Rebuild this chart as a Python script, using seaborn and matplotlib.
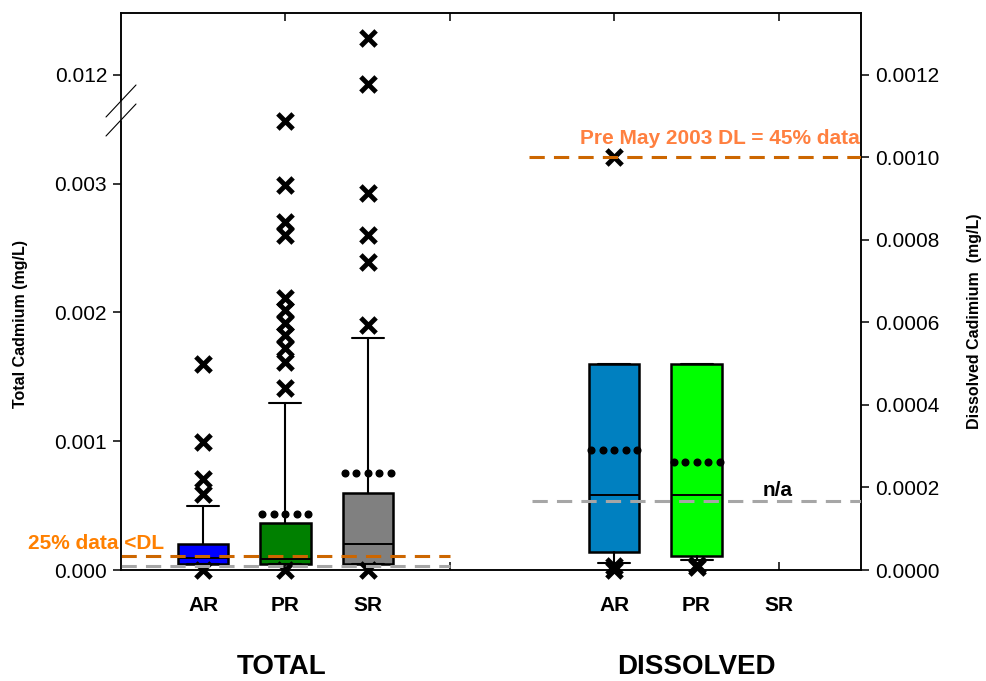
import numpy as np
import pandas as pd
import matplotlib
matplotlib.use("Agg")
import matplotlib.pyplot as plt
import seaborn as sns

# %% data
sites = ["AR", "PR", "SR"]

# total cadmium (mg/L), left axis
total_pos = [1, 2, 3]
total_q1 = [0.00005, 0.00005, 0.00005]
total_med = [0.000093, 0.000085, 0.0002]
total_q3 = [0.000202, 0.000364, 0.000597]
total_whislo = [0.00005, 0.00005, 0.00005]
total_whishi = [0.000496, 0.001295, 0.0018]
total_mean = [np.nan, 0.000434, 0.000752]
total_colors = ["#0000FF", "#008000", "#808080"]
total_out_AR = [0.001597, 0.000995, 0.000705, 0.000594, 0.0]
total_out_PR = [0.00349, 0.00299, 0.0027, 0.0026, 0.002116, 0.002016, 0.001915,
                0.001822, 0.001721, 0.001612, 0.001411, 0.0]
total_out_SR = [0.012284, 0.011927, 0.002928, 0.0026, 0.00239, 0.0019, 0.0]

# dissolved cadmium (mg/L), right axis (no SR data)
diss_pos = [6, 7, 8]
diss_q1 = [0.000044, 0.000034]
diss_med = [0.000182, 0.000182]
diss_q3 = [0.0005, 0.0005]
diss_whislo = [0.000017, 0.000024]
diss_whishi = [0.0005, 0.0005]
diss_mean = [0.000291, 0.000262]
diss_colors = ["#0080C0", "#00FF00"]
diss_out_AR = [0.001, 0.00001, 0.0]
diss_out_PR = [0.000012, 0.000007]

# detection limits
total_dl = 0.000105
total_dl_gray = 0.000031
diss_dl = 0.001
diss_dl_gray = 0.000168

# %% broken left axis: lower part up to G0, upper part starts at G1
G0, G1, EPS = 0.00356, 0.01172, 1e-3

def fwd(v):
    v = np.asarray(v, dtype=float)
    return np.where(v <= G0, v,
                    np.where(v <= G1, G0 + (v - G0) * EPS,
                             G0 + (G1 - G0) * EPS + (v - G1)))

def inv(t):
    t = np.asarray(t, dtype=float)
    tg = G0 + (G1 - G0) * EPS
    return np.where(t <= G0, t,
                    np.where(t <= tg, G0 + (t - G0) / EPS, G1 + (t - tg)))

# %% style
sns.set_style("ticks")
plt.rcParams['font.family'] = ['Liberation Sans', 'DejaVu Sans']
plt.rcParams['axes.linewidth'] = 1.1
plt.rcParams['text.color'] = 'black'
plt.rcParams['xtick.color'] = 'black'
plt.rcParams['ytick.color'] = 'black'
plt.rcParams['axes.edgecolor'] = 'black'

fig = plt.figure(figsize=(9.87, 6.81), dpi=100)
ax = fig.add_axes([121 / 987, 1 - 570 / 681, 740 / 987, 557 / 681])
ax.set_yscale('function', functions=(fwd, inv))
ax2 = ax.twinx()

def make_stats(q1, med, q3, lo, hi):
    return [dict(q1=a, med=b, q3=c, whislo=d, whishi=e, fliers=[])
            for a, b, c, d, e in zip(q1, med, q3, lo, hi)]

box_kw = dict(widths=0.61, capwidths=0.39, patch_artist=True, showfliers=False,
              boxprops=dict(edgecolor='black', linewidth=1.8),
              medianprops=dict(color='black', linewidth=1.4),
              whiskerprops=dict(color='black', linewidth=1.5),
              capprops=dict(color='black', linewidth=1.5))

b1 = ax.bxp(make_stats(total_q1, total_med, total_q3, total_whislo, total_whishi),
            positions=total_pos, **box_kw)
for patch, c in zip(b1['boxes'], total_colors):
    patch.set_facecolor(c)

b2 = ax2.bxp(make_stats(diss_q1, diss_med, diss_q3, diss_whislo, diss_whishi),
             positions=diss_pos[:2], **box_kw)
for patch, c in zip(b2['boxes'], diss_colors):
    patch.set_facecolor(c)

# mean as dotted line of five dots
for a, pos, means in [(ax, total_pos, total_mean), (ax2, diss_pos, diss_mean)]:
    for p, m in zip(pos, means):
        if np.isnan(m):
            continue
        xs = np.linspace(p - 0.28, p + 0.28, 5)
        a.plot(xs, [m] * 5, 'o', color='black', markersize=4.8, zorder=5)

# outliers
out_df = pd.DataFrame({
    'x': [1] * len(total_out_AR) + [2] * len(total_out_PR) + [3] * len(total_out_SR),
    'y': total_out_AR + total_out_PR + total_out_SR})
sns.scatterplot(data=out_df, x='x', y='y', ax=ax, marker='x', s=120, linewidth=3.5,
                color='black', clip_on=False, zorder=6, legend=False)
out_df2 = pd.DataFrame({
    'x': [6] * len(diss_out_AR) + [7] * len(diss_out_PR),
    'y': diss_out_AR + diss_out_PR})
sns.scatterplot(data=out_df2, x='x', y='y', ax=ax2, marker='x', s=120, linewidth=3.5,
                color='black', clip_on=False, zorder=6, legend=False)

# detection limit lines
ax.plot([0, 4], [total_dl, total_dl], color='#CC6600', lw=2.2, dashes=(5, 3), zorder=7)
ax.plot([0, 4], [total_dl_gray, total_dl_gray], color='#A6A6A6', lw=2.2, dashes=(5, 3), zorder=7)
ax2.plot([4.96, 9], [diss_dl, diss_dl], color='#CC6600', lw=2.2, dashes=(5, 3), zorder=7)
ax2.plot([5.0, 9], [diss_dl_gray, diss_dl_gray], color='#A6A6A6', lw=2.2, dashes=(5, 3), zorder=7)

ax.text(-1.13, 0.000209, "25% data <DL", color='#FF8000', fontsize=15,
        fontweight='bold', ha='left', va='center', clip_on=False)
ax2.text(8.99, 0.001047, "Pre May 2003 DL = 45% data", color='#FF8040', fontsize=15,
         fontweight='bold', ha='right', va='center')
ax2.text(7.98, 0.000192, "n/a", color='black', fontsize=15, fontweight='bold',
         ha='center', va='center')

# %% axes
ax.set_xlim(0, 9)
ax.set_ylim(0, 0.012478)
ax2.set_ylim(0, 0.00135)
ax.set_xticks([2, 4, 6, 8])
ax.tick_params(axis='x', direction='in', top=True, bottom=True, labelbottom=False,
               length=6, width=1.1)
ax.set_yticks([0, 0.001, 0.002, 0.003, 0.012])
ax.set_yticklabels(["0.000", "0.001", "0.002", "0.003", "0.012"])
ax.tick_params(axis='y', direction='out', length=6, width=1.1, labelsize=15, pad=4)
ax2.set_yticks(np.arange(0, 0.00121, 0.0002))
ax2.set_yticklabels([f"{v:.4f}" for v in np.arange(0, 0.00121, 0.0002)])
ax2.tick_params(axis='y', direction='out', length=6, width=1.1, labelsize=15, pad=4)
ax.set_ylabel("")
ax2.set_ylabel("")
ax.set_xlabel("")

# axis break marks
tr = ax.transAxes
ax.plot([0, 0], [(570 - 103) / 557, (570 - 119) / 557], color='white', lw=3,
        transform=tr, clip_on=False, zorder=10)
for y0 in (101, 120):
    ax.plot([-15 / 740, 15 / 740], [(570 - y0 - 16) / 557, (570 - y0 + 16) / 557],
            color='black', lw=0.8, transform=tr, clip_on=False, zorder=11)

# category and group labels
xt = ax.get_xaxis_transform()
for p, s in zip(total_pos + diss_pos, sites + sites):
    ax.text(p, -0.063, s, transform=xt, ha='center', va='center',
            fontsize=15, fontweight='bold')
ax.text(1.95, -0.174, "TOTAL", transform=xt, ha='center', va='center',
        fontsize=20, fontweight='bold')
ax.text(7.0, -0.174, "DISSOLVED", transform=xt, ha='center', va='center',
        fontsize=20, fontweight='bold')

fig.text(21 / 987, 1 - 324 / 681, "Total Cadmium (mg/L)", rotation=90,
         ha='center', va='center', fontsize=11.5, fontweight='bold')
fig.text(975 / 987, 1 - 321 / 681, "Dissolved Cadimium  (mg/L)", rotation=90,
         ha='center', va='center', fontsize=11.5, fontweight='bold')

fig.savefig("out.png", dpi=100)
